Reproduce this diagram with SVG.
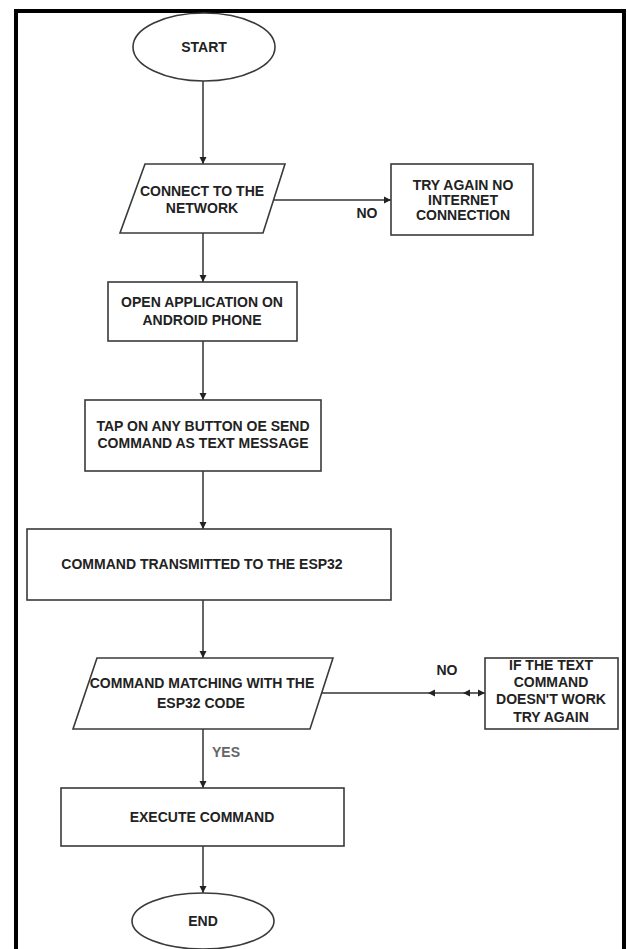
<svg xmlns="http://www.w3.org/2000/svg" width="627" height="949" viewBox="0 0 627 949">
<defs>
<style>
.shape{fill:#fff;stroke:#3a3a3a;stroke-width:1.6}
.t{font-family:"Liberation Sans",Arial,sans-serif;font-weight:bold;font-size:14px;fill:#222;text-anchor:middle}
.lbl{font-family:"Liberation Sans",Arial,sans-serif;font-weight:bold;font-size:14px;fill:#222;text-anchor:middle}
.yes{font-family:"Liberation Sans",Arial,sans-serif;font-weight:bold;font-size:14px;fill:#666;text-anchor:middle}
.conn{fill:none;stroke:#333;stroke-width:1.5}
.head{fill:#222}
</style>
<marker id="arr" markerWidth="8" markerHeight="8" refX="7" refY="4" orient="auto" markerUnits="userSpaceOnUse">
<path d="M0,0.5 L7,4 L0,7.5 Z" fill="#222"/>
</marker>
</defs>
<rect x="0" y="0" width="627" height="949" fill="#fff"/>
<rect x="16" y="11" width="608" height="960" fill="none" stroke="#000" stroke-width="4"/>

<g id="connectors">
<line class="conn" x1="203" y1="81" x2="203" y2="164" marker-end="url(#arr)"/>
<line class="conn" x1="274" y1="200" x2="391" y2="200" marker-end="url(#arr)"/>
<line class="conn" x1="203" y1="233" x2="203" y2="282" marker-end="url(#arr)"/>
<line class="conn" x1="203" y1="341" x2="203" y2="400" marker-end="url(#arr)"/>
<line class="conn" x1="203" y1="471" x2="203" y2="529" marker-end="url(#arr)"/>
<line class="conn" x1="203" y1="600" x2="203" y2="658" marker-end="url(#arr)"/>
<line class="conn" x1="322" y1="693" x2="485" y2="693" marker-end="url(#arr)"/>
<path class="head" d="M428,693 L435,689.5 L435,696.5 Z"/>
<path class="head" d="M463,693 L470,689.5 L470,696.5 Z"/>
<line class="conn" x1="203" y1="729" x2="203" y2="788" marker-end="url(#arr)"/>
<line class="conn" x1="203" y1="846" x2="203" y2="893" marker-end="url(#arr)"/>
<text class="lbl" x="367" y="218">NO</text>
<text class="lbl" x="447" y="675">NO</text>
<text class="yes" x="226" y="757">YES</text>
</g>

<g id="start">
<ellipse class="shape" cx="204" cy="47" rx="71" ry="34"/>
<text class="t" x="204" y="52">START</text>
</g>

<g id="connect">
<polygon class="shape" points="145,164 285,164 263,233 120,233"/>
<text class="t" x="202" y="196">CONNECT TO THE</text>
<text class="t" x="202" y="213">NETWORK</text>
</g>

<g id="tryagain">
<rect class="shape" x="391" y="164" width="142" height="71"/>
<text class="t" x="463" y="190">TRY AGAIN NO</text>
<text class="t" x="463" y="205">INTERNET</text>
<text class="t" x="463" y="220">CONNECTION</text>
</g>

<g id="openapp">
<rect class="shape" x="108" y="282" width="189" height="59"/>
<text class="t" x="202" y="307">OPEN APPLICATION ON</text>
<text class="t" x="202" y="325">ANDROID PHONE</text>
</g>

<g id="tap">
<rect class="shape" x="85" y="400" width="236" height="71"/>
<text class="t" x="203" y="431">TAP ON ANY BUTTON OE SEND</text>
<text class="t" x="203" y="448">COMMAND AS TEXT MESSAGE</text>
</g>

<g id="transmitted">
<rect class="shape" x="27" y="529" width="364" height="71"/>
<text class="t" x="202" y="569">COMMAND TRANSMITTED TO THE ESP32</text>
</g>

<g id="matching">
<polygon class="shape" points="97,658 333,658 310,729 73,729"/>
<text class="t" x="202" y="688">COMMAND MATCHING WITH THE</text>
<text class="t" x="201" y="708">ESP32 CODE</text>
</g>

<g id="iftext">
<rect class="shape" x="485" y="658" width="133" height="71"/>
<text class="t" x="551" y="670">IF THE TEXT</text>
<text class="t" x="551" y="687">COMMAND</text>
<text class="t" x="551" y="704">DOESN'T WORK</text>
<text class="t" x="551" y="722">TRY AGAIN</text>
</g>

<g id="execute">
<rect class="shape" x="61" y="788" width="283" height="58"/>
<text class="t" x="202" y="822">EXECUTE COMMAND</text>
</g>

<g id="end">
<ellipse class="shape" cx="203" cy="921" rx="71" ry="28"/>
<text class="t" x="203" y="926">END</text>
</g>
</svg>
